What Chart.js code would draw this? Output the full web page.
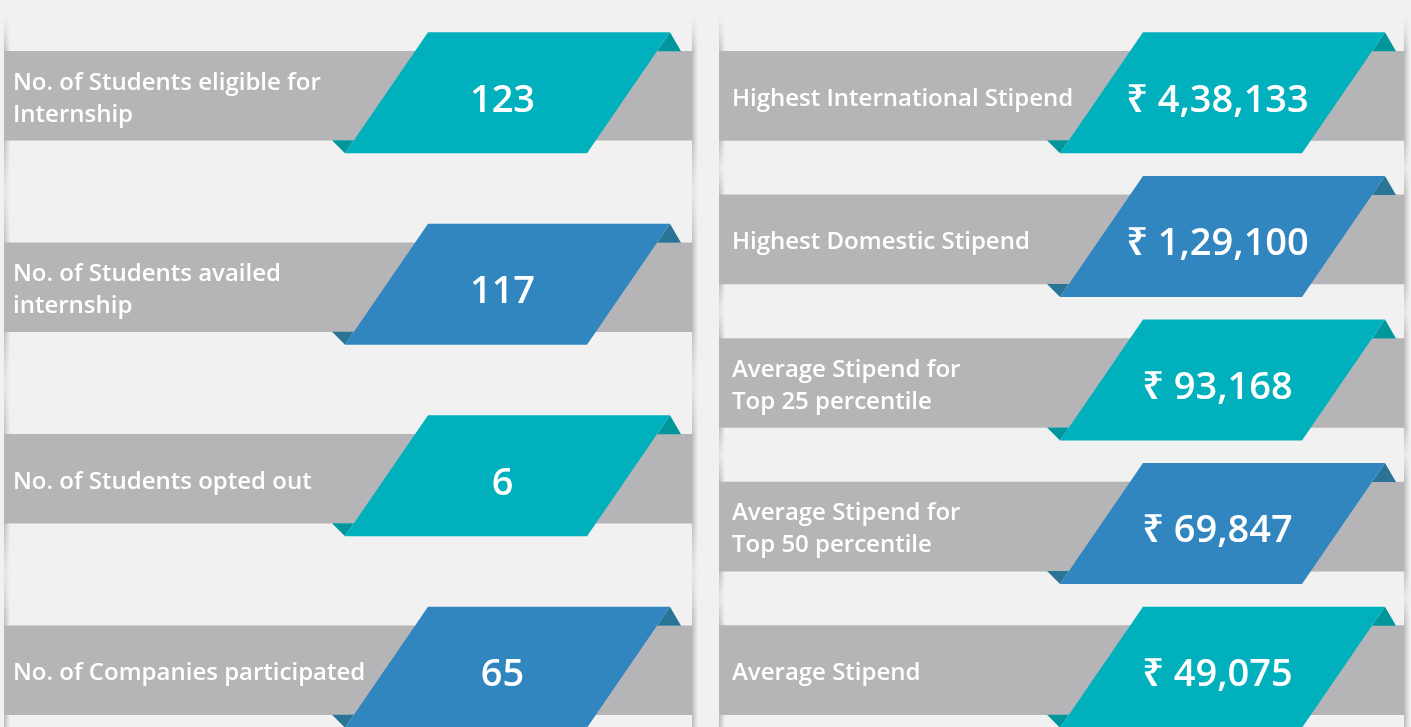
<!DOCTYPE html>
<html>
<head>
<meta charset="utf-8">
<script src="https://cdn.jsdelivr.net/npm/chart.js@4"></script>
<style>
html, body { margin: 0; padding: 0; background: #f1f1f1; overflow: hidden; width: 1411px; height: 727px; }
#left { position: absolute; left: 0; top: 0; }
#right { position: absolute; left: 706px; top: 0; }
</style>
</head>
<body>
<canvas id="left" width="706" height="766"></canvas>
<canvas id="right" width="705" height="742"></canvas>
<script>
var leftLabels = [
    ["No. of Students eligible for", "Internship"],
    ["No. of Students availed", "internship"],
    ["No. of Students opted out"],
    ["No. of Companies participated"]
];
var leftValues = [123, 117, 6, 65];

var rightLabels = [
    ["Highest International Stipend"],
    ["Highest Domestic Stipend"],
    ["Average Stipend for", "Top 25 percentile"],
    ["Average Stipend for", "Top 50 percentile"],
    ["Average Stipend"]
];
var rightValues = [438133, 129100, 93168, 69847, 49075];

var BG = '241,241,241';
var BAND = '#b5b5b8';
var TEAL = '#00b0bd', TEAL_DARK = '#00969c';
var BLUE = '#3186bf', BLUE_DARK = '#2a7596';

// 4,38,133 style grouping
function indianFormat(n) {
    var s = String(n);
    if (s.length <= 3) return s;
    var last = s.slice(-3), rest = s.slice(0, -3);
    rest = rest.replace(/\B(?=(\d{2})+(?!\d))/g, ',');
    return rest + ',' + last;
}

function edgeShadow(ctx, x, yTop, yBot) {
    var g = ctx.createLinearGradient(x, 0, x + 6, 0);
    g.addColorStop(0, 'rgba(0,0,0,0.22)');
    g.addColorStop(1, 'rgba(0,0,0,0)');
    ctx.fillStyle = g;
    ctx.fillRect(x, yTop, 6, yBot - yTop);
}

function fadeRect(ctx, x, y0, y1, a0, aMid, a1) {
    var g = ctx.createLinearGradient(0, y0, 0, y1);
    g.addColorStop(0, 'rgba(' + BG + ',' + a0 + ')');
    g.addColorStop(0.5, 'rgba(' + BG + ',' + aMid + ')');
    g.addColorStop(1, 'rgba(' + BG + ',' + a1 + ')');
    ctx.fillStyle = g;
    ctx.fillRect(x, y0, 7, y1 - y0);
}

var ribbonPlugin = {
    id: 'ribbons',
    beforeDatasetsDraw: function(chart) {
        var ctx = chart.ctx;
        var meta = chart.getDatasetMeta(0);
        var xl = chart.scales.x.getPixelForValue(0);
        var xr = chart.scales.x.getPixelForValue(1);
        var H = chart.height;
        ctx.save();
        [xl, xr].forEach(function(x) {
            edgeShadow(ctx, x, 15, H);
            var first = meta.data[0];
            fadeRect(ctx, x, 15, first.y - first.height / 2, 1, 0.6, 0);
            for (var i = 0; i < meta.data.length - 1; i++) {
                var a = meta.data[i], b = meta.data[i + 1];
                fadeRect(ctx, x, a.y + a.height / 2, b.y - b.height / 2, 0, 0.75, 0);
            }
        });
        ctx.restore();
    },
    afterDatasetsDraw: function(chart, args, opts) {
        var ctx = chart.ctx;
        var meta = chart.getDatasetMeta(0);
        var x0 = chart.scales.x.getPixelForValue(0);
        ctx.save();
        meta.data.forEach(function(bar, i) {
            var top = bar.y - bar.height / 2, bottom = bar.y + bar.height / 2;
            var pTop = top - 19, pBot = bottom + 13;
            var slant = 83, w = 242;
            var bl = x0 + 341, tl = bl + slant, tr = tl + w, br = bl + w;
            var k = slant / (pBot - pTop);
            var main = i % 2 ? BLUE : TEAL;
            var dark = i % 2 ? BLUE_DARK : TEAL_DARK;

            // label on the grey band
            var lines = [].concat(chart.data.labels[i]);
            ctx.fillStyle = '#ffffff';
            ctx.font = '600 24px "Open Sans"';
            ctx.textAlign = 'left';
            ctx.textBaseline = 'middle';
            lines.forEach(function(t, j) {
                var off = (j - (lines.length - 1) / 2) * 32;
                ctx.fillText(t, x0 + opts.indent, bar.y + 3 + off);
            });

            // folded corners
            ctx.fillStyle = dark;
            ctx.beginPath();
            ctx.moveTo(tr, pTop);
            ctx.lineTo(tr + 11, top);
            ctx.lineTo(tr - (top - pTop) * k, top);
            ctx.closePath();
            ctx.fill();
            ctx.beginPath();
            ctx.moveTo(bl, pBot);
            ctx.lineTo(bl - 13, bottom);
            ctx.lineTo(bl + (pBot - bottom) * k, bottom);
            ctx.closePath();
            ctx.fill();

            // parallelogram
            ctx.fillStyle = main;
            ctx.beginPath();
            ctx.moveTo(bl, pBot);
            ctx.lineTo(tl, pTop);
            ctx.lineTo(tr, pTop);
            ctx.lineTo(br, pBot);
            ctx.closePath();
            ctx.fill();

            // value
            ctx.fillStyle = '#ffffff';
            ctx.font = '600 38px "Open Sans", "Noto Sans", "DejaVu Sans"';
            ctx.textAlign = 'center';
            ctx.fillText(opts.prefix + indianFormat(opts.values[i]), (bl + tr) / 2 - 5, bar.y + 5);
        });
        ctx.restore();
    }
};

function makeChart(id, labels, values, prefix, indent, pad) {
    return new Chart(document.getElementById(id), {
        type: 'bar',
        data: {
            labels: labels,
            datasets: [{
                data: labels.map(function() { return [0, 1]; }),
                backgroundColor: BAND,
                borderWidth: 0,
                barThickness: 89
            }]
        },
        options: {
            indexAxis: 'y',
            responsive: false,
            animation: false,
            layout: { padding: pad },
            plugins: {
                legend: { display: false },
                tooltip: { enabled: false },
                ribbons: { values: values, prefix: prefix, indent: indent }
            },
            scales: {
                x: { display: false, min: 0, max: 1 },
                y: { display: false }
            }
        },
        plugins: [ribbonPlugin]
    });
}

makeChart('left', leftLabels, leftValues, '', 9, { left: 4, right: 14, top: 0, bottom: 0 });
makeChart('right', rightLabels, rightValues, '\u20b9 ', 13, { left: 13, right: 7, top: 24, bottom: 0 });
</script>
</body>
</html>
